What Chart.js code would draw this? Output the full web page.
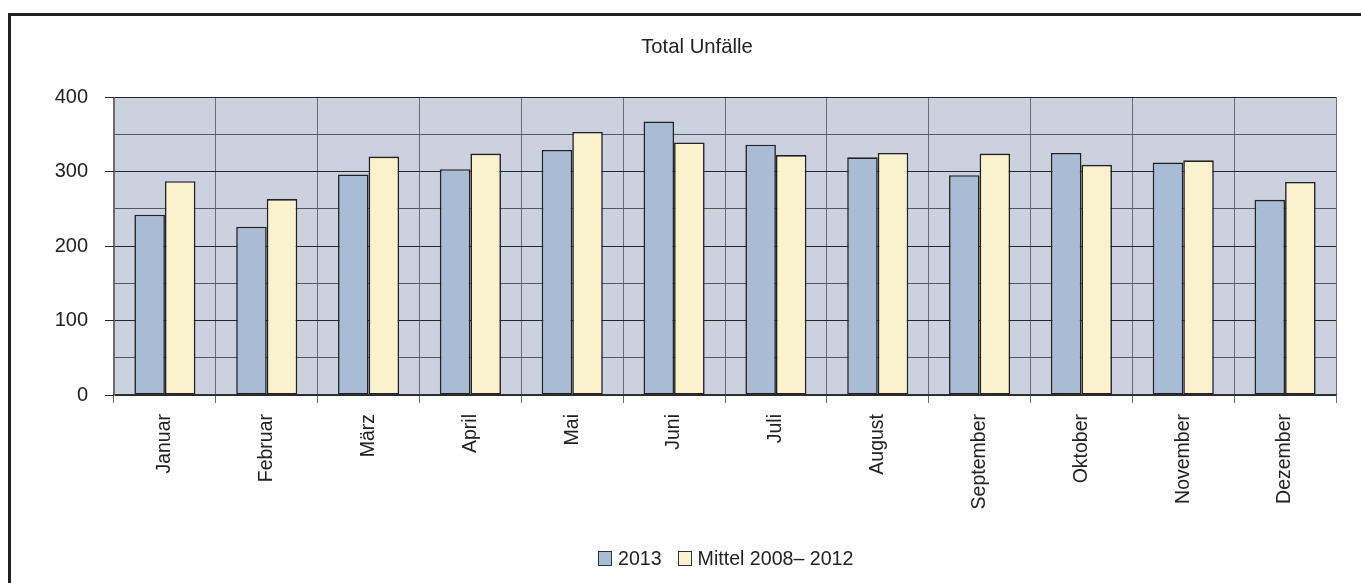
<!DOCTYPE html>
<html><head><meta charset="utf-8">
<script src="https://cdn.jsdelivr.net/npm/chart.js@4.4.1/dist/chart.umd.min.js"></script>
<style>
html,body{margin:0;padding:0;background:#fff;width:1361px;height:583px;overflow:hidden;}
#frame{position:absolute;left:8px;top:13px;width:1400px;height:620px;border:3px solid #222;box-sizing:border-box;}
#wrap{position:absolute;left:0;top:0;width:1361px;height:583px;}
#title{position:absolute;top:34px;left:0;width:1394px;text-align:center;font-family:'Liberation Sans',Arial,sans-serif;font-size:20.3px;color:#222;line-height:24px;}
#legend{position:absolute;top:546px;left:598px;font-family:'Liberation Sans',Arial,sans-serif;font-size:19.6px;color:#222;white-space:nowrap;display:flex;align-items:center;line-height:24px;}
#legend .box{display:inline-block;width:12px;height:13px;border:1.5px solid #333;margin-right:6px;}
#legend .item{display:flex;align-items:center;margin-right:16px;}
</style></head>
<body>
<div id="frame"></div>
<div id="wrap"><canvas id="c" width="1361" height="583"></canvas></div>
<div id="title"></div>
<div id="legend"></div>
<script>
const months = ['Januar','Februar','März','April','Mai','Juni','Juli','August','September','Oktober','November','Dezember'];
const series2013 = [242, 226, 296, 303, 329, 367, 336, 319, 295, 325, 312, 262];
const seriesMittel = [287, 263, 320, 324, 353, 339, 322, 325, 324, 309, 315, 286];
const seriesNames = ['2013', 'Mittel 2008\u2013 2012'];
const yTicks = [0, 100, 200, 300, 400];
const titleText = 'Total Unfälle';

const colors = ['#a9bcd6', '#faf2cd'];
const FONT = "'Liberation Sans',Arial,sans-serif";

document.getElementById('title').textContent = titleText;
const legendEl = document.getElementById('legend');
seriesNames.forEach((n,i)=>{
  const it = document.createElement('span'); it.className='item';
  const b = document.createElement('span'); b.className='box'; b.style.background=colors[i];
  const t = document.createElement('span'); t.textContent=n;
  it.appendChild(b); it.appendChild(t); legendEl.appendChild(it);
});

const plotBg = {
  id:'plotBg',
  beforeDraw(chart){
    const {ctx, chartArea:a} = chart;
    ctx.save(); ctx.fillStyle='#cbd1df';
    ctx.fillRect(a.left, a.top, a.right-a.left, a.bottom-a.top);
    ctx.restore();
  }
};

new Chart(document.getElementById('c'), {
  type:'bar',
  data:{
    labels: months,
    datasets:[
      {label:seriesNames[0], data:series2013, backgroundColor:colors[0], borderColor:'#222', borderWidth:1.6, borderSkipped:false},
      {label:seriesNames[1], data:seriesMittel, backgroundColor:colors[1], borderColor:'#222', borderWidth:1.6, borderSkipped:false}
    ]
  },
  options:{
    responsive:false, animation:false,
    devicePixelRatio:1,
    datasets:{bar:{categoryPercentage:0.6, barPercentage:1.0}},
    layout:{padding:{left:0, right:25, top:97, bottom:0}},
    plugins:{
      legend:{display:false},
      tooltip:{enabled:false},
      title:{display:false}
    },
    scales:{
      x:{
        offset:true,
        grid:{color:'#6b6b70', lineWidth:1, tickLength:8, offset:true},
        border:{color:'#333', width:1.2},
        ticks:{color:'#222', font:{family:FONT, size:19.5}, maxRotation:90, minRotation:90, autoSkip:false, padding:11},
        afterFit(s){ s.height = 188; }
      },
      y:{
        min:0, max:400,
        ticks:{stepSize:50, color:'#222', padding:17, font:{family:FONT, size:20},
          callback:(v)=> yTicks.includes(v) ? String(v) : ''},
        grid:{
          color:(c)=> (c.tick && yTicks.includes(c.tick.value)) ? '#262626' : '#55575f',
          tickColor:(c)=> (c.tick && yTicks.includes(c.tick.value)) ? '#262626' : 'rgba(0,0,0,0)',
          lineWidth:1, tickLength:9
        },
        border:{color:'#6b6b70', width:1},
        afterFit(s){ s.width = 114; }
      }
    }
  },
  plugins:[plotBg]
});
</script>
</body></html>
